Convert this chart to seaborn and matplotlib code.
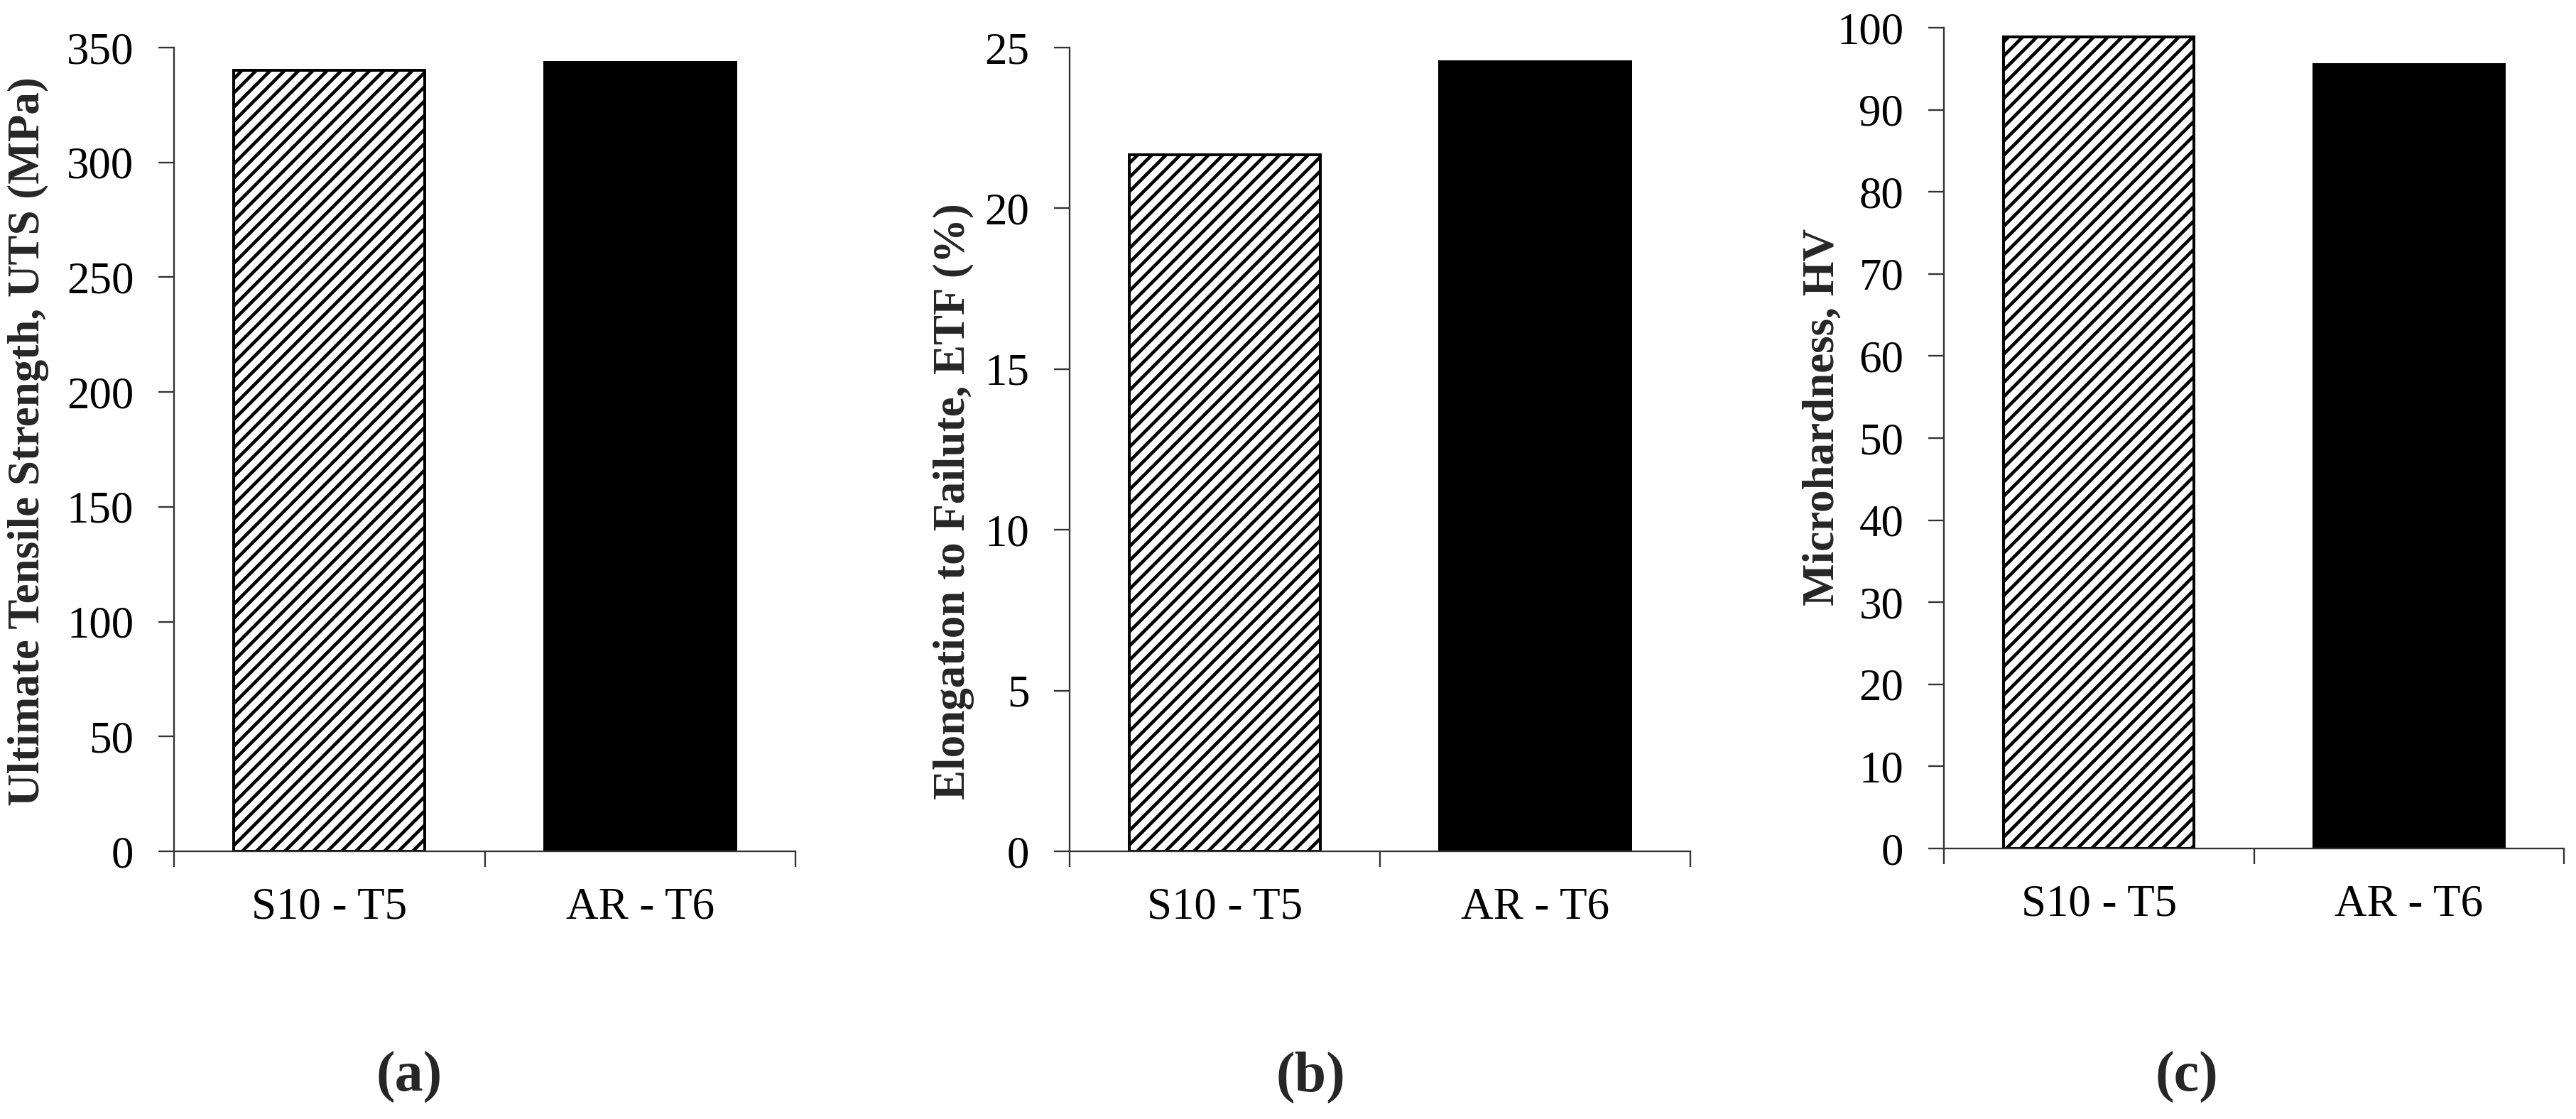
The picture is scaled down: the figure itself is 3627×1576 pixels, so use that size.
import numpy as np
import pandas as pd
import matplotlib
matplotlib.use("Agg")
import matplotlib.pyplot as plt
import seaborn as sns

# data
samples = ["S10 - T5", "AR - T6"]
uts = [340.1, 343.5]
etf = [21.67, 24.56]
hv = [98.9, 95.5]

ylabels = ["Ultimate Tensile Strength, UTS (MPa)",
           "Elongation to Failute, ETF (%)",
           "Microhardness, HV"]
panel_tags = ["(a)", "(b)", "(c)"]
ymax = [350, 25, 100]
ystep = [50, 5, 10]

sns.set_theme(style="white")
plt.rcParams["font.family"] = ["Liberation Serif", "DejaVu Serif"]
plt.rcParams["hatch.linewidth"] = 2.8
plt.rcParams["hatch.color"] = "black"

DPI = 120
W, H = 3627, 1576
fig = plt.figure(figsize=(W / DPI, H / DPI), dpi=DPI)

# axes boxes in pixels: left, top, right, bottom
boxes = [(245, 67, 1120, 1199),
         (1506, 67, 2380, 1199),
         (2737, 39, 3610, 1195)]
label_x = [-0.201, -0.153, -0.1615]
label_y = [0.51, 0.435, 0.526]
tag_x = [576, 1845, 3079]

axis_col = "#333333"
fs = 37.8

for i, vals in enumerate([uts, etf, hv]):
    l, t, r, b = boxes[i]
    ax = fig.add_axes([l / W, (H - b) / H, (r - l) / W, (b - t) / H])
    df = pd.DataFrame({"sample": samples, "value": vals})
    sns.barplot(data=df, x="sample", y="value", hue="sample",
                palette=["white", "black"], edgecolor="black",
                linewidth=2.4, width=0.615, legend=False, ax=ax,
                saturation=1)
    for p in ax.patches:
        if p.get_x() + p.get_width() / 2 < 0.5:
            p.set_hatch("//")
            p.set_facecolor("white")
        else:
            p.set_facecolor("black")

    ax.set_xlim(-0.5, 1.5)
    ax.set_ylim(0, ymax[i])
    ax.set_yticks(np.arange(0, ymax[i] + 1, ystep[i]))
    ax.set_xticks([0, 1])
    ax.set_xticklabels(samples)
    ax.set_xticks([-0.5, 0.5, 1.5], minor=True)

    for s in ["top", "right"]:
        ax.spines[s].set_visible(False)
    for s in ["left", "bottom"]:
        ax.spines[s].set_color(axis_col)
        ax.spines[s].set_linewidth(1.4)

    ax.tick_params(axis="y", which="major", direction="out", length=13,
                   width=1.4, color=axis_col, labelsize=fs, pad=21,
                   left=True, labelcolor="black")
    ax.tick_params(axis="x", which="major", length=0, labelsize=fs, pad=30,
                   labelcolor="black")
    ax.tick_params(axis="x", which="minor", direction="out", length=13,
                   width=1.4, color=axis_col, bottom=True)

    ax.set_xlabel("")
    ax.set_ylabel(ylabels[i], fontsize=fs, fontweight="bold")
    ax.yaxis.set_label_coords(label_x[i], label_y[i])
    ax.grid(False)

    fig.text(tag_x[i] / W, (H - 1517) / H, panel_tags[i], ha="center",
             va="center", fontsize=48, fontweight="bold")

fig.savefig("out.png", dpi=DPI)
